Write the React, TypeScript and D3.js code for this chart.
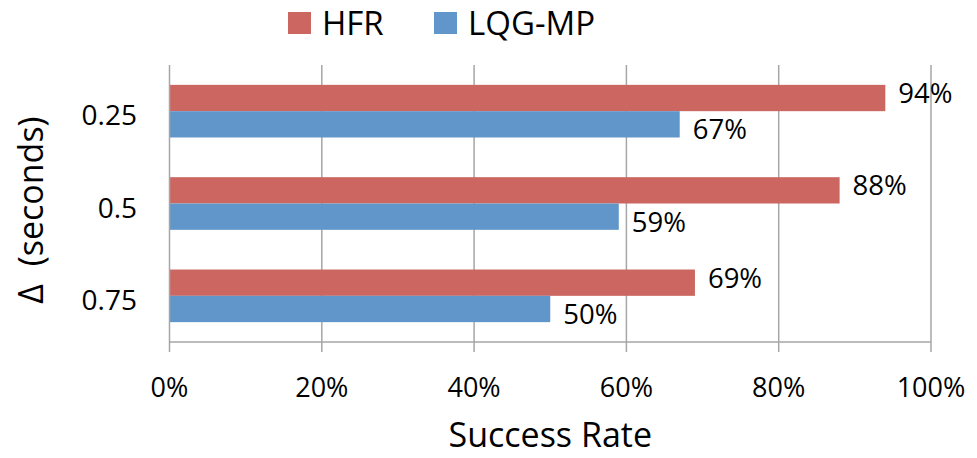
import * as d3 from "d3";
import { useEffect, useRef } from "react";

const categories = ["0.25", "0.5", "0.75"];
const seriesNames = ["HFR", "LQG-MP"];
const hfrValues = [0.94, 0.88, 0.69];
const lqgValues = [0.67, 0.59, 0.5];
const xTicks = [0, 0.2, 0.4, 0.6, 0.8, 1.0];

const colors = ["#CC6660", "#6096C9"];
const gridColor = "#A6A6A6";
const font = "'Open Sans', 'Noto Sans', sans-serif";

export default function App() {
  const ref = useRef<SVGSVGElement | null>(null);

  useEffect(() => {
    const el = ref.current;
    if (!el) return;
    const svg = d3.select(el);
    svg.selectAll("*").remove();

    const W = 977;
    const H = 458;
    const left = 169.5;
    const right = 931;
    const top = 65;
    const bottom = 342;

    const x = d3.scaleLinear().domain([0, 1]).range([left, right]);
    const y = d3
      .scaleBand<string>()
      .domain(categories)
      .range([top, bottom])
      .paddingInner(0.43)
      .paddingOuter(0.215);
    const ySub = d3
      .scaleBand<string>()
      .domain(seriesNames)
      .range([0, y.bandwidth()]);

    svg.attr("width", W).attr("height", H).attr("viewBox", `0 0 ${W} ${H}`);
    svg.append("rect").attr("width", W).attr("height", H).attr("fill", "#fff");

    // vertical grid lines
    svg
      .append("g")
      .selectAll("line")
      .data(xTicks.slice(1))
      .join("line")
      .attr("x1", (d) => x(d))
      .attr("x2", (d) => x(d))
      .attr("y1", top)
      .attr("y2", bottom + 10)
      .attr("stroke", gridColor)
      .attr("stroke-width", 1.5);

    // bars
    const rows = categories.map((c, i) => ({
      cat: c,
      vals: [hfrValues[i], lqgValues[i]],
    }));

    const grp = svg
      .append("g")
      .selectAll("g")
      .data(rows)
      .join("g")
      .attr("transform", (d) => `translate(0,${y(d.cat)})`);

    grp
      .selectAll("rect")
      .data((d) => d.vals.map((v, j) => ({ v, s: seriesNames[j], j })))
      .join("rect")
      .attr("x", x(0))
      .attr("y", (d) => ySub(d.s)!)
      .attr("width", (d) => x(d.v) - x(0))
      .attr("height", ySub.bandwidth())
      .attr("fill", (d) => colors[d.j]);

    grp
      .selectAll("text")
      .data((d) => d.vals.map((v, j) => ({ v, s: seriesNames[j], j })))
      .join("text")
      .attr("x", (d) => x(d.v) + 13)
      .attr("y", (d) => ySub(d.s)! + ySub.bandwidth() / 2 + (d.j === 0 ? -5 : 5))
      .attr("dy", "0.36em")
      .attr("font-family", font)
      .attr("font-size", 27.5)
      .attr("fill", "#000")
      .text((d) => d3.format(".0%")(d.v));

    // axes lines
    svg
      .append("line")
      .attr("x1", left)
      .attr("x2", left)
      .attr("y1", top)
      .attr("y2", bottom + 10)
      .attr("stroke", gridColor)
      .attr("stroke-width", 1.5);
    svg
      .append("line")
      .attr("x1", left)
      .attr("x2", right)
      .attr("y1", bottom)
      .attr("y2", bottom)
      .attr("stroke", gridColor)
      .attr("stroke-width", 1.5);

    // x tick labels
    svg
      .append("g")
      .selectAll("text")
      .data(xTicks)
      .join("text")
      .attr("x", (d) => x(d))
      .attr("y", 387)
      .attr("dy", "0.36em")
      .attr("text-anchor", "middle")
      .attr("font-family", font)
      .attr("font-size", 27)
      .text((d) => d3.format(".0%")(d));

    // y tick labels
    svg
      .append("g")
      .selectAll("text")
      .data(categories)
      .join("text")
      .attr("x", 137)
      .attr("y", (d) => y(d)! + y.bandwidth() / 2 + 4)
      .attr("dy", "0.36em")
      .attr("text-anchor", "end")
      .attr("font-family", font)
      .attr("font-size", 28)
      .text((d) => d);

    // axis titles
    svg
      .append("text")
      .attr("x", (left + right) / 2)
      .attr("y", 435)
      .attr("dy", "0.36em")
      .attr("text-anchor", "middle")
      .attr("font-family", font)
      .attr("font-size", 34)
      .text("Success Rate");

    svg
      .append("text")
      .attr("transform", "translate(31,210) rotate(-90)")
      .attr("dy", "0.36em")
      .attr("text-anchor", "middle")
      .attr("font-family", font)
      .attr("font-size", 34)
      .attr("xml:space", "preserve")
      .style("white-space", "pre")
      .text("Δ  (seconds)");

    // legend
    const legendX = [288, 434];
    const lg = svg
      .append("g")
      .selectAll("g")
      .data(seriesNames)
      .join("g")
      .attr("transform", (_, i) => `translate(${legendX[i]},12)`);
    lg.append("rect")
      .attr("width", 23)
      .attr("height", 22)
      .attr("fill", (_, i) => colors[i]);
    lg.append("text")
      .attr("x", 34)
      .attr("y", 11)
      .attr("dy", "0.36em")
      .attr("font-family", font)
      .attr("font-size", 33)
      .text((d) => d);
  }, []);

  return (
    <svg
      ref={ref}
      style={{ position: "absolute", left: 0, top: 0, display: "block" }}
    />
  );
}
